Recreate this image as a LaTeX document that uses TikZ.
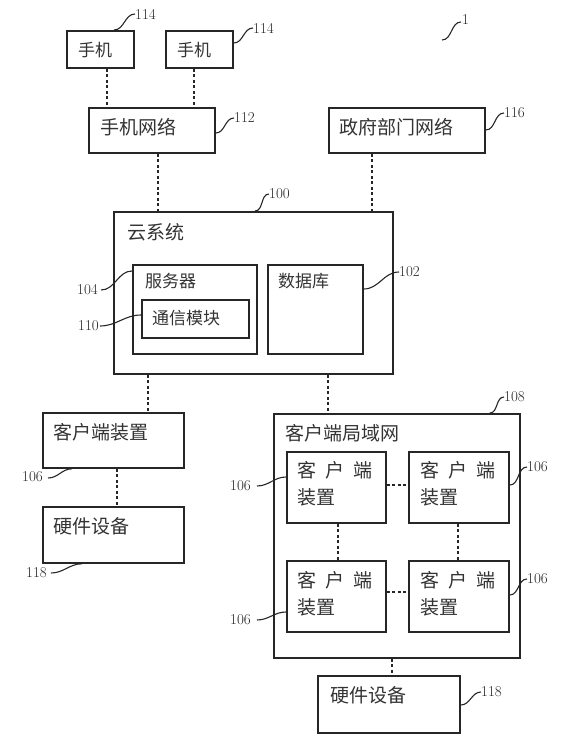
\documentclass[tikz,border=0pt]{standalone}
\usepackage{fontspec}
\newfontfamily\cjk{Noto Sans CJK SC}
\usetikzlibrary{calc}
\tikzset{
  box/.style={draw=black!85, line width=1.8pt, anchor=north west, inner sep=0pt},
  conn/.style={draw=black!85, line width=1.8pt, dash pattern=on 3pt off 2.5pt},
  lead/.style={draw=black!85, line width=1.1pt, out=0, in=180},
  num/.style={font=\fontsize{15}{15}\selectfont, inner sep=0pt, text=black!85},
  big/.style={font=\cjk\fontsize{19}{27}\selectfont, anchor=west, inner sep=0pt, text=black!80, align=left},
  small/.style={font=\cjk\fontsize{17}{20}\selectfont, anchor=west, inner sep=0pt, text=black!80},
}
\begin{document}
\begin{tikzpicture}[x=1pt,y=-1pt]
\useasboundingbox (0,0) rectangle (568,739);

% boxes
\node[box, minimum width=67, minimum height=37] (p1) at (66,30) {};
\node[box, minimum width=67, minimum height=37] (p2) at (165,30) {};
\node[box, minimum width=126, minimum height=45] (mnet) at (88,107) {};
\node[box, minimum width=156, minimum height=45] (gov) at (328,107) {};
\node[box, minimum width=279, minimum height=162] (cloud) at (113,211) {};
\node[box, minimum width=124, minimum height=89] (server) at (132,264) {};
\node[box, minimum width=107, minimum height=38] (comm) at (141,299) {};
\node[box, minimum width=95, minimum height=89] (db) at (267,264) {};
\node[box, minimum width=141, minimum height=55] (cli) at (42,412) {};
\node[box, minimum width=141, minimum height=56] (hw1) at (42,506) {};
\node[box, minimum width=246, minimum height=244] (lan) at (273,413) {};
\node[box, minimum width=99, minimum height=71] (c1) at (286,451) {};
\node[box, minimum width=100, minimum height=71] (c2) at (408,451) {};
\node[box, minimum width=99, minimum height=71] (c3) at (286,560) {};
\node[box, minimum width=100, minimum height=71] (c4) at (408,560) {};
\node[box, minimum width=142, minimum height=57] (hw2) at (317,675) {};

% texts
\node[small] (tp1) at (78,50) {手机};
\node[small] (tp2) at (177,50) {手机};
\node[big] (tmnet) at (100,127) {手机网络};
\node[big] (tgov) at (339,127) {政府部门网络};
\node[big] (tcloud) at (127,232) {云系统};
\node[small] (tserver) at (145,281) {服务器};
\node[small] (tcomm) at (152,318) {通信模块};
\node[small] (tdb) at (278,281) {数据库};
\node[big] (tcli) at (53,432) {客户端装置};
\node[big] (thw1) at (53,526) {硬件设备};
\node[big] (tlan) at (285,433) {客户端局域网};
\node[big] (tc1) at (297,484) {客\hspace{9pt}户\hspace{9pt}端\\装置};
\node[big] (tc2) at (420,484) {客\hspace{9pt}户\hspace{9pt}端\\装置};
\node[big] (tc3) at (297,594) {客\hspace{9pt}户\hspace{9pt}端\\装置};
\node[big] (tc4) at (420,594) {客\hspace{9pt}户\hspace{9pt}端\\装置};
\node[big] (thw2) at (330,695) {硬件设备};

% dashed connectors
\draw[conn] ($(p1.south west)+(41,0)$) coordinate (a1) -- (a1 |- mnet.north);
\draw[conn] ($(p2.south west)+(29,0)$) coordinate (a2) -- (a2 |- mnet.north);
\draw[conn] ($(mnet.south west)+(70,0)$) coordinate (a3) -- (a3 |- cloud.north);
\draw[conn] ($(gov.south west)+(44,0)$) coordinate (a4) -- (a4 |- cloud.north);
\draw[conn] ($(cloud.south west)+(35,0)$) coordinate (a5) -- (a5 |- cli.north);
\draw[conn] ($(cloud.south west)+(215,0)$) coordinate (a6) -- (a6 |- lan.north);
\draw[conn] ($(cli.south west)+(75,0)$) coordinate (a7) -- (a7 |- hw1.north);
\draw[conn] ($(lan.south west)+(119,0)$) coordinate (a8) -- (a8 |- hw2.north);
\draw[conn] ($(c1.north east)+(0,34)$) coordinate (a9) -- (a9 -| c2.west);
\draw[conn] ($(c3.north east)+(0,32)$) coordinate (a10) -- (a10 -| c4.west);
\draw[conn] ($(c1.south west)+(52,0)$) coordinate (a11) -- (a11 |- c3.north);
\draw[conn] ($(c2.south west)+(50,0)$) coordinate (a12) -- (a12 |- c4.north);

% reference numbers
\node[num, anchor=west] (n114a) at (135,14) {114};
\node[num, anchor=west] (n114b) at (253,28) {114};
\node[num, anchor=west] (n112) at (234,118) {112};
\node[num, anchor=west] (n116) at (504,113) {116};
\node[num, anchor=west] (n1) at (462,20) {1};
\node[num, anchor=west] (n100) at (269,194) {100};
\node[num, anchor=west] (n102) at (399,272) {102};
\node[num, anchor=east] (n104) at (98,290) {104};
\node[num, anchor=east] (n110) at (99,326) {110};
\node[num, anchor=east] (n106a) at (43,477) {106};
\node[num, anchor=east] (n118a) at (47,573) {118};
\node[num, anchor=west] (n108) at (504,397) {108};
\node[num, anchor=west] (n106b) at (527,467) {106};
\node[num, anchor=west] (n106c) at (527,579) {106};
\node[num, anchor=east] (n106d) at (251,486) {106};
\node[num, anchor=east] (n106e) at (251,620) {106};
\node[num, anchor=west] (n118b) at (481,692) {118};

% leaders
\draw[lead] ($(p1.north west)+(48,0)$) to (n114a.west);
\draw[lead] ($(p2.north east)+(0,13)$) to (n114b.west);
\draw[lead] ($(mnet.north east)+(0,26)$) to (n112.west);
\draw[lead] ($(gov.north east)+(0,23)$) to (n116.west);
\coordinate (f1) at (442,40);
\draw[lead] (f1) to ($(n1.west)+(-1,2)$);
\draw[lead] ($(cloud.north west)+(142,0)$) to (n100.west);
\draw[lead] ($(db.north east)+(0,25)$) to (n102.west);
\draw[lead] ($(n104.east)+(3,0)$) to ($(server.north west)+(0,7)$);
\draw[lead] ($(n110.east)+(1,0)$) to ($(comm.north west)+(0,16)$);
\draw[lead] ($(n106a.east)+(5,1)$) to ($(cli.south west)+(30,0)$);
\draw[lead] ($(n118a.east)+(4,0)$) to ($(hw1.south west)+(40,0)$);
\draw[lead] ($(lan.north east)+(-31,0)$) to (n108.west);
\draw[lead] ($(c2.north east)+(0,34)$) to (n106b.west);
\draw[lead] ($(c4.north east)+(0,35)$) to (n106c.west);
\draw[lead] ($(n106d.east)+(6,0)$) to ($(c1.north west)+(0,26)$);
\draw[lead] ($(n106e.east)+(6,0)$) to ($(c3.north west)+(0,52)$);
\draw[lead] ($(hw2.north east)+(0,30)$) to (n118b.west);
\end{tikzpicture}
\end{document}
